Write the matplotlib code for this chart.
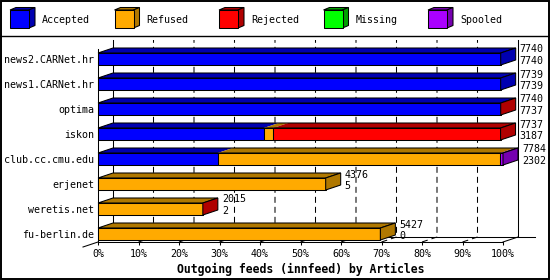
import matplotlib
matplotlib.use("Agg")
import matplotlib.pyplot as plt
from matplotlib.patches import Polygon, Rectangle
import numpy as np

plt.rcParams['font.family'] = ['DejaVu Sans Mono']
plt.rcParams['lines.scale_dashes'] = False

# ---- data ----
hosts = ["news2.CARNet.hr", "news1.CARNet.hr", "optima", "iskon",
         "club.cc.cmu.edu", "erjenet", "weretis.net", "fu-berlin.de"]
accepted = [7740, 7739, 7737, 3187, 2302, 5, 2, 0]
refused  = [0, 0, 0, 180, 5432, 4371, 2008, 5427]
rejected = [0, 0, 3, 4370, 0, 0, 5, 0]
missing  = [0, 0, 0, 0, 0, 0, 0, 0]
spooled  = [0, 0, 0, 0, 50, 0, 0, 0]
offered  = [7740, 7739, 7740, 7737, 7784, 4376, 2015, 5427]
series_names = ["Accepted", "Refused", "Rejected", "Missing", "Spooled"]
front_colors = ["#0000ff", "#ffaa00", "#ff0000", "#00ff00", "#aa00ff"]
dark_colors  = ["#0000b0", "#b07800", "#b00000", "#00a000", "#7600b0"]
xticks = list(range(0, 101, 10))
xtick_labels = [f"{t}%" for t in xticks]
title = "Outgoing feeds (innfeed) by Articles"

W, H = 550, 280
fig = plt.figure(figsize=(W / 100, H / 100), dpi=100)
fig.patch.set_facecolor("white")

# overlay axes in pixel space (legend, frame)
ov = fig.add_axes([0, 0, 1, 1])
ov.set_xlim(0, W)
ov.set_ylim(H, 0)
ov.axis("off")
LW = 0.75
ov.add_patch(Rectangle((0.5, 0.5), W - 1.5, H - 1.5, fill=False, ec="black", lw=1.4))
ov.plot([0, W], [36, 36], color="black", lw=1.0)

for i, (name, fc, dc) in enumerate(zip(series_names, front_colors, dark_colors)):
    x0 = 10 + i * 104.5
    y0, y1 = 10, 28
    ov.add_patch(Polygon([(x0, y0), (x0 + 6, y0 - 2.5), (x0 + 25, y0 - 2.5), (x0 + 19, y0)],
                         fc=dc, ec="black", lw=LW))
    ov.add_patch(Polygon([(x0 + 19, y0), (x0 + 25, y0 - 2.5), (x0 + 25, y1 - 2.5), (x0 + 19, y1)],
                         fc=dc, ec="black", lw=LW))
    ov.add_patch(Rectangle((x0, y0), 19, y1 - y0, fc=fc, ec="black", lw=LW))
    ov.text(x0 + 32, 20, name, fontsize=7.2, va="center", ha="left")

# main chart axes: x in percent of max, y in rows
left_px, right_px, bot_px, top_px = 98, 503, 242, 42
ax = fig.add_axes([left_px / W, (H - bot_px) / H, (right_px - left_px) / W, (bot_px - top_px) / H])
ax.set_xlim(0, 100)
ax.set_ylim(0, 8)
ax.patch.set_alpha(0)
for s in ax.spines.values():
    s.set_visible(False)

px_per_pct = (right_px - left_px) / 100.0
DX = 15 / px_per_pct
DY = 5 / 25.0
TOP = 8.08
nrows = len(hosts)
vmax = max(offered)

# back wall, floor, grid
ax.plot([DX, DX], [DY, TOP], color="black", lw=LW, zorder=1, clip_on=False)
ax.plot([100 + DX, 100 + DX], [DY, TOP], color="black", lw=LW, zorder=1, clip_on=False)
ax.plot([DX, (535 - left_px) / px_per_pct], [DY, DY], color="black", lw=LW, zorder=1, clip_on=False)
ax.plot([0, 100], [0, 0], color="black", lw=LW, zorder=1, clip_on=False)
ax.plot([100, 100 + DX], [0, DY], color="black", lw=LW, zorder=1, clip_on=False)
ax.plot([0, -DX], [0, -DY], color="black", lw=LW, zorder=1, clip_on=False)
ax.plot([0, 0], [0, 7.72], color="black", lw=LW, zorder=1, clip_on=False)
for t in xticks[1:-1]:
    ax.plot([t, t + DX, t + DX], [0, DY, TOP], color="black", lw=LW,
            linestyle=(0, (4.3, 2.9)), zorder=1, clip_on=False)

# bars
seg_data = [accepted, refused, rejected, missing, spooled]
for r, host in enumerate(hosts):
    k = nrows - 1 - r
    yb, yt = k + 0.08, k + 0.56
    x = 0.0
    last_dark = None
    for si in range(len(seg_data)):
        v = seg_data[si][r]
        if v <= 0:
            continue
        w = v / vmax * 100
        ax.add_patch(Polygon([(x, yt), (x + w, yt), (x + w + DX, yt + DY), (x + DX, yt + DY)],
                             fc=dark_colors[si], ec="none", zorder=3, clip_on=False))
        ax.add_patch(Rectangle((x, yb), w, yt - yb, fc=front_colors[si], ec="black",
                               lw=LW, zorder=4, clip_on=False))
        x += w
        last_dark = dark_colors[si]
    xe = x
    if xe > 0:
        ax.add_patch(Polygon([(0, yt), (xe, yt), (xe + DX, yt + DY), (DX, yt + DY)],
                             fill=False, ec="black", lw=LW, zorder=5, clip_on=False))
        ax.add_patch(Polygon([(xe, yb), (xe + DX, yb + DY), (xe + DX, yt + DY), (xe, yt)],
                             fc=last_dark, ec="black", lw=LW, zorder=5, clip_on=False))
    xl = xe + DX + 4 / px_per_pct
    ax.text(xl, yt + 0.14, str(offered[r]), fontsize=7.2, va="center", ha="left", zorder=6)
    ax.text(xl, yt - 0.32, str(accepted[r]), fontsize=7.2, va="center", ha="left", zorder=6)

ax.set_yticks([nrows - 1 - r + 0.32 for r in range(nrows)])
ax.set_yticklabels(hosts, fontsize=7.2)
ax.tick_params(axis="y", length=0, pad=2.9)
ax.set_xticks(xticks)
ax.set_xticklabels(xtick_labels, fontsize=7.2)
ax.tick_params(axis="x", length=1.8, width=LW, direction="out", pad=3.2)
ax.set_xlabel(title, fontsize=8.3, fontweight="bold", labelpad=2.5)

fig.savefig("out.png", dpi=100, facecolor="white")
